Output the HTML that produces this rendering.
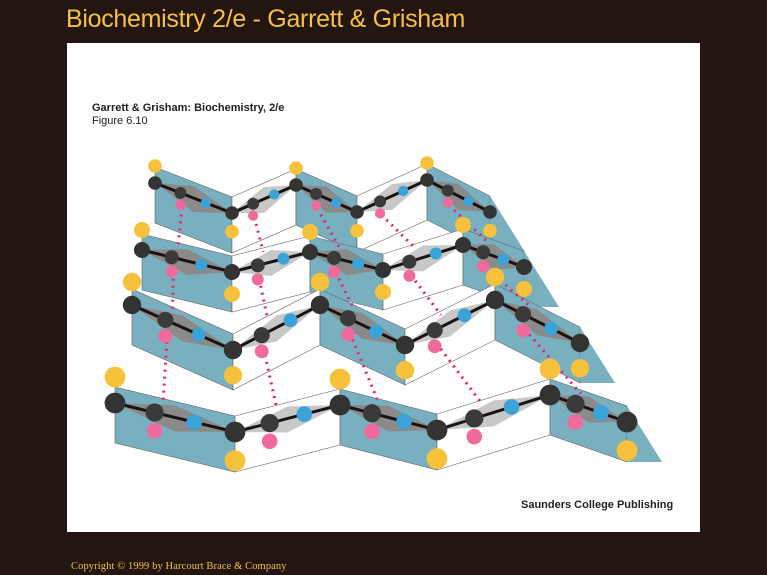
<!DOCTYPE html>
<html><head><meta charset="utf-8"><style>
html,body{margin:0;padding:0;background:#231510;}
#root{position:relative;width:767px;height:575px;background:#231510;overflow:hidden;font-family:"Liberation Sans",sans-serif;}
#title{position:absolute;left:66px;top:5px;font-size:25px;color:#f5c142;letter-spacing:-0.3px;}
#panel{position:absolute;left:67px;top:43px;width:633px;height:489px;background:#fff;}
#cap{position:absolute;left:92px;top:102px;font-size:11px;color:#222;line-height:13px;font-weight:bold;}
#cap span{font-weight:normal}
#pub{position:absolute;left:521px;top:499px;font-size:11px;font-weight:bold;color:#222;}
#copy{position:absolute;left:71px;top:561px;font-size:10.5px;color:#f5c142;font-family:"Liberation Serif",serif;letter-spacing:0.1px;}
svg{position:absolute;left:0;top:0}
</style></head><body>
<div id="root">
<div id="title">Biochemistry 2/e - Garrett &amp; Grisham</div>
<div id="panel"></div>
<div id="cap">Garrett &amp; Grisham: Biochemistry, 2/e<br><span>Figure 6.10</span></div>
<svg id="fig" width="767" height="575"></svg>
<div id="pub">Saunders College Publishing</div>
<div id="copy">Copyright © 1999 by Harcourt Brace &amp; Company</div>
</div>
<script>
const rowX = [
 [155,232,296,357,427,490],
 [142,232,310,383,463,524],
 [132,233,320,405,495,580],
 [115,235,340,437,550,627]];
const rowY = [
 [183,213,185,212,180,212],
 [250,272,252,270,245,267],
 [305,350,305,345,300,343],
 [403,432,405,430,395,422]];
const NS='http://www.w3.org/2000/svg';
const svg=document.getElementById('fig');
function mk(t,a){const e=document.createElementNS(NS,t);for(const k in a)e.setAttribute(k,a[k]);svg.appendChild(e);return e;}
const up=16, dn=40;
rowX.forEach((xs,r)=>{const ys=rowY[r];
 for(let i=0;i<xs.length-1;i++){
  const down=ys[i+1]>ys[i];
  const p=mk('polygon',{points:`${xs[i]},${ys[i]-up} ${xs[i+1]},${ys[i+1]-up} ${xs[i+1]},${ys[i+1]+dn} ${xs[i]},${ys[i]+dn}`,fill:down?'#78b0bf':'#fff',stroke:'#666','stroke-width':0.6});
  
  
  const g=mk('polygon',{points:`${xs[i]},${ys[i]} ${(xs[i]+xs[i+1])/2},${(ys[i]+ys[i+1])/2-12} ${xs[i+1]},${ys[i+1]} ${(xs[i]+xs[i+1])/2},${(ys[i]+ys[i+1])/2+14}`,fill:down?'#8a8a8a':'#c8c8c8'});
  
  
 }
 const last=xs.length-1;
 const t=mk('polygon',{points:`${xs[last]},${ys[last]-up} ${xs[last]+35},${ys[last]+40} ${xs[last]},${ys[last]+dn}`,fill:'#78b0bf'});
 
 
});
for(let r=0;r<3;r++){const xs=rowX[r],ys=rowY[r],xs2=rowX[r+1],ys2=rowY[r+1];
 for(let i=0;i<xs.length-1;i++){
  const x1=xs[i]+(xs[i+1]-xs[i])*0.35,y1=ys[i]+(ys[i+1]-ys[i])*0.35+14;
  const x2=xs2[i]+(xs2[i+1]-xs2[i])*0.4,y2=ys2[i]+(ys2[i+1]-ys2[i])*0.4-12;
  const l=mk('line',{x1:x1,y1:y1,x2:x2,y2:y2,stroke:'#e8207a','stroke-width':3,'stroke-dasharray':'2 5'});
  
  
 }}
rowX.forEach((xs,r)=>{const ys=rowY[r];const s=0.85+r*0.15;
 const pts=xs.map((x,i)=>x+','+ys[i]).join(' ');
 const pl=mk('polyline',{points:pts,fill:'none',stroke:'#1a1210','stroke-width':3});
 
 
 for(let i=0;i<xs.length-1;i++){
  const mx1=xs[i]+(xs[i+1]-xs[i])*0.33,my1=ys[i]+(ys[i+1]-ys[i])*0.33;
  const mx2=xs[i]+(xs[i+1]-xs[i])*0.66,my2=ys[i]+(ys[i+1]-ys[i])*0.66;
  const c=mk('circle',{cx:mx1,cy:my1,r:7*s,fill:'#3a3a3a'});
  
  
  const o=mk('circle',{cx:mx1,cy:my1+14*s,r:6*s,fill:'#f06a9e'});
  
  
  const n=mk('circle',{cx:mx2,cy:my2,r:6*s,fill:'#3aa4d8'});
  
  
 }
 xs.forEach((x,i)=>{
  const upR=ys[i]<(ys[i+1]??ys[i-1]);
  const ry=upR?ys[i]-20*s:ys[i]+22*s;
  const R=mk('circle',{cx:x,cy:ry,r:8*s,fill:'#f8c13c'});
  
  
  const a=mk('circle',{cx:x,cy:ys[i],r:8*s,fill:'#333'});
  
  
 });
});
</script>
</body></html>
